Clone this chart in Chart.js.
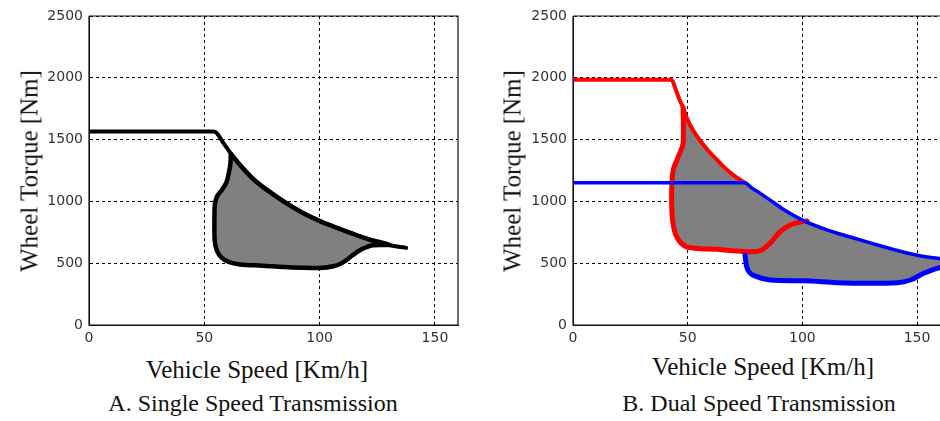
<!DOCTYPE html>
<html><head><meta charset="utf-8">
<script src="https://cdn.jsdelivr.net/npm/chart.js@4.4.1/dist/chart.umd.min.js"></script>
<style>
html,body{margin:0;padding:0;background:#fff;width:940px;height:421px;overflow:hidden;position:relative}
canvas{position:absolute;top:0}
.t{position:absolute;font-family:"Liberation Serif","DejaVu Serif",serif;color:#111;white-space:nowrap;line-height:1}
.yt{transform:translate(-50%,-50%) rotate(-90deg)}
.xt{transform:translate(-50%,-50%)}
</style></head><body>
<canvas id="ca" width="470" height="345" style="left:0"></canvas>
<canvas id="cb" width="470" height="345" style="left:470px"></canvas>
<div class="t yt" style="left:29px;top:171px;font-size:25px">Wheel Torque [Nm]</div>
<div class="t xt" style="left:257px;top:369px;font-size:25px">Vehicle Speed [Km/h]</div>
<div class="t xt" style="left:253px;top:403px;font-size:24px">A. Single Speed Transmission</div>
<div class="t yt" style="left:512px;top:171px;font-size:25px">Wheel Torque [Nm]</div>
<div class="t xt" style="left:763px;top:366px;font-size:25px">Vehicle Speed [Km/h]</div>
<div class="t xt" style="left:759px;top:403px;font-size:24px">B. Dual Speed Transmission</div>
<script>
// ---- tick labels ----
const xTickValues = [0, 50, 100, 150];
const yTickValues = [0, 500, 1000, 1500, 2000, 2500];

// ---- A. Single speed transmission ----
const aEnvelopeSpeed  = [0, 54, 55.5, 58, 61, 65.5, 71, 77, 84, 92, 100, 106, 113, 121, 128, 133, 137.5];
const aEnvelopeTorque = [1565, 1565, 1550, 1480, 1400, 1295, 1185, 1095, 1005, 915, 842, 797, 748, 695, 655, 637, 624];

const aRegionSpeed  = [61.5, 61.3, 60.5, 59.5, 57.5, 55.5, 54.6, 54.4, 54.5, 55.5, 57.5, 60.5, 65.5, 75, 88, 100, 106, 110, 114, 118, 123, 130, 121, 113, 106, 100, 92, 84, 77, 71, 65.5, 61.5];
const aRegionTorque = [1385, 1300, 1220, 1150, 1090, 1040, 980, 900, 680, 600, 545, 510, 490, 480, 465, 462, 475, 505, 560, 610, 645, 650, 695, 748, 797, 842, 915, 1005, 1095, 1185, 1295, 1385];

// ---- B. Dual speed transmission ----
const bRedEnvelopeSpeed  = [0, 43, 44.5, 46.5, 48, 49.5, 52, 55.3, 59, 62.6, 66, 69.9, 75];
const bRedEnvelopeTorque = [1985, 1985, 1920, 1820, 1760, 1680, 1585, 1495, 1410, 1340, 1275, 1213, 1149];

const bRedRegionSpeed  = [48, 48, 45.9, 43.7, 43, 43.4, 45.2, 49.5, 62.6, 75.7, 81.6, 85.9, 90.3, 94.7, 99.8, 102];
const bRedRegionTorque = [1760, 1470, 1362, 1254, 1065, 850, 714, 633, 612, 593, 601, 661, 755, 809, 836, 842];

const bBlueEnvelopeSpeed  = [0, 75, 77.5, 81.6, 86, 91.8, 100.5, 110.7, 120.9, 129.6, 139.9, 150, 160, 164];
const bBlueEnvelopeTorque = [1150, 1150, 1115, 1065, 1010, 935, 845, 770, 712, 664, 610, 565, 538, 530];

const bBlueLowerSpeed  = [75, 75.3, 75.7, 77, 80.1, 85.9, 100.5, 115, 129.6, 141.3, 147.1, 152.9, 157.3, 160, 164];
const bBlueLowerTorque = [566, 520, 472, 425, 391, 364, 358, 342, 337, 342, 364, 418, 451, 464, 478];

const bRegionSpeed  = [48, 49.5, 52, 55.3, 59, 62.6, 66, 69.9, 75, 77.5, 81.6, 86, 91.8, 100.5, 110.7, 120.9, 129.6, 139.9, 150, 160, 164, 164, 160, 157.3, 152.9, 147.1, 141.3, 129.6, 115, 100.5, 85.9, 80.1, 77, 75.7, 75.3, 75, 75.7, 62.6, 49.5, 45.2, 43.4, 43, 43.7, 45.9, 48, 48];
const bRegionTorque = [1760, 1680, 1585, 1495, 1410, 1340, 1275, 1213, 1149, 1115, 1065, 1010, 935, 845, 770, 712, 664, 610, 565, 538, 530, 478, 464, 451, 418, 364, 342, 337, 342, 358, 364, 391, 425, 472, 520, 566, 593, 612, 633, 714, 850, 1065, 1254, 1362, 1470, 1760];

// ---- helpers ----
function pts(xs, ys) { return xs.map((x, i) => ({ x: x, y: ys[i] })); }
function lineDs(xs, ys, color, width, order, monotone) {
  const ds = { data: pts(xs, ys), showLine: true, borderColor: color, borderWidth: width,
    pointRadius: 0, tension: 0.3, fill: false, order: order,
    borderCapStyle: 'round', borderJoinStyle: 'round' };
  if (monotone) ds.cubicInterpolationMode = 'monotone';
  return ds;
}
function areaDs(xs, ys, color, order) {
  return { data: pts(xs, ys), showLine: true, borderColor: color, borderWidth: 0,
    backgroundColor: color, pointRadius: 0, tension: 0.3, fill: 'shape', order: order };
}

const boxPlugin = {
  id: 'box',
  afterDraw(chart, args, opts) {
    const a = chart.chartArea, ctx = chart.ctx;
    ctx.save();
    ctx.strokeStyle = '#111';
    ctx.lineWidth = 1.2;
    ctx.beginPath();
    ctx.moveTo(a.left, a.top); ctx.lineTo(a.left, a.bottom); ctx.lineTo(a.right, a.bottom);
    if (opts.right) { ctx.lineTo(a.right, a.top); ctx.lineTo(a.left, a.top); }
    else { ctx.moveTo(a.left, a.top); ctx.lineTo(a.right + 2, a.top); }
    ctx.stroke();
    ctx.restore();
  }
};

function makeOptions(yWidth, padRight, xMax, rightBorder) {
  const tickFont = { family: '"DejaVu Sans", sans-serif', size: 14 };
  return {
    responsive: false, animation: false, events: [],
    layout: { padding: { top: 16, right: padRight, bottom: 0, left: 0 } },
    plugins: { legend: { display: false }, tooltip: { enabled: false }, box: { right: rightBorder } },
    scales: {
      x: {
        type: 'linear', min: 0, max: xMax, z: 1,
        grid: { color: '#000', lineWidth: 1, drawTicks: false },
        border: { display: true, color: '#111', dash: [3, 3] },
        ticks: { color: '#333', font: tickFont, padding: 5, maxRotation: 0, includeBounds: false,
          callback: (v) => String(v) },
        afterBuildTicks: (s) => { s.ticks = xTickValues.map(v => ({ value: v })); },
        afterFit: (s) => { s.height = 20; }
      },
      y: {
        type: 'linear', min: 0, max: 2500, z: 1,
        grid: { color: '#000', lineWidth: 1, drawTicks: false },
        border: { display: true, color: '#111', dash: [3, 3] },
        ticks: { color: '#333', font: tickFont, padding: 6, callback: (v) => String(v) },
        afterBuildTicks: (s) => { s.ticks = yTickValues.map(v => ({ value: v })); },
        afterFit: (s) => { s.width = yWidth; }
      }
    }
  };
}

new Chart(document.getElementById('ca'), {
  type: 'scatter',
  data: { datasets: [
    lineDs(aEnvelopeSpeed, aEnvelopeTorque, '#000', 4, 1, true),
    lineDs(aRegionSpeed, aRegionTorque, '#000', 4.5, 2, false),
    areaDs(aRegionSpeed, aRegionTorque, '#808080', 3)
  ] },
  options: makeOptions(89, 12, 160, true),
  plugins: [boxPlugin]
});

new Chart(document.getElementById('cb'), {
  type: 'scatter',
  data: { datasets: [
    lineDs(bBlueEnvelopeSpeed, bBlueEnvelopeTorque, '#0000ff', 3.5, 1, true),
    lineDs(bBlueLowerSpeed, bBlueLowerTorque, '#0000ff', 5, 2, true),
    lineDs(bRedEnvelopeSpeed, bRedEnvelopeTorque, '#ff0000', 4, 3, true),
    lineDs(bRedRegionSpeed, bRedRegionTorque, '#ff0000', 5, 3, false),
    areaDs(bRegionSpeed, bRegionTorque, '#808080', 5)
  ] },
  options: makeOptions(103, 0, 160, false),
  plugins: [boxPlugin]
});
</script>
</body></html>
